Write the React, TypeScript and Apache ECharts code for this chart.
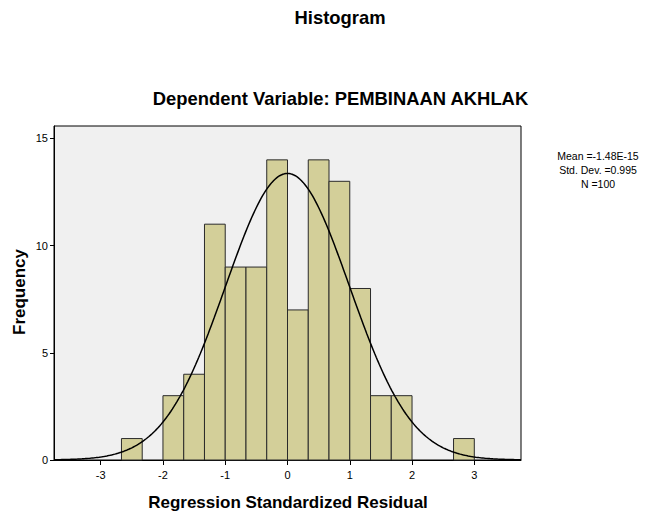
import React, { useEffect, useRef } from "react";
import * as echarts from "echarts";

const binStarts = [-8 / 3, -2, -5 / 3, -4 / 3, -1, -2 / 3, -1 / 3, 0, 1 / 3, 2 / 3, 1, 4 / 3, 5 / 3, 8 / 3];
const binWidth = 1 / 3;
const frequencies = [1, 3, 4, 11, 9, 9, 14, 7, 14, 13, 8, 3, 3, 1];
const xTicks = [-3, -2, -1, 0, 1, 2, 3];
const yTicks = [0, 5, 10, 15];
const mean = -1.48e-15;
const stdDev = 0.995;
const n = 100;
const statsLines = ["Mean =-1.48E-15", "Std. Dev. =0.995", "N =100"];

const FONT = "'Liberation Sans', Arial, Helvetica, sans-serif";

export default function App() {
  const ref = useRef<HTMLDivElement>(null);
  useEffect(() => {
    if (!ref.current) return;
    document.body.style.margin = "0";
    const chart = echarts.init(ref.current, null, { renderer: "svg" });
    const bins = binStarts.map((s, i) => [s, s + binWidth, frequencies[i]]);
    const curve: number[][] = [];
    for (let i = 0; i <= 300; i++) {
      const x = -3.75 + (7.5 * i) / 300;
      const z = (x - mean) / stdDev;
      const y = (n * binWidth) / (stdDev * Math.sqrt(2 * Math.PI)) * Math.exp(-0.5 * z * z);
      curve.push([x, y]);
    }
    chart.setOption({
      animation: false,
      backgroundColor: "#ffffff",
      grid: {
        left: 54,
        right: 131,
        top: 126,
        bottom: 54,
        show: true,
        backgroundColor: "#f0f0f0",
        borderColor: "#000",
        borderWidth: 1,
      },
      xAxis: {
        type: "value",
        min: -3.75,
        max: 3.75,
        axisLine: { show: true, onZero: false, lineStyle: { color: "#000", width: 1 } },
        axisTick: { show: true, length: 5, customValues: xTicks, lineStyle: { color: "#000" } },
        axisLabel: {
          customValues: xTicks,
          fontFamily: FONT,
          fontSize: 11,
          color: "#000",
          margin: 9,
        },
        splitLine: { show: false },
      },
      yAxis: {
        type: "value",
        min: 0,
        max: 15.58,
        axisLine: { show: true, onZero: false, lineStyle: { color: "#000", width: 1 } },
        axisTick: { show: true, length: 4, customValues: yTicks, lineStyle: { color: "#000" } },
        axisLabel: {
          customValues: yTicks,
          fontFamily: FONT,
          fontSize: 11,
          color: "#000",
          margin: 6,
        },
        splitLine: { show: false },
      },
      graphic: [
        {
          type: "text",
          x: 340,
          y: 17,
          style: {
            text: "Histogram",
            font: `bold 18.4px ${FONT}`,
            fill: "#000",
            align: "center",
            verticalAlign: "middle",
          },
        },
        {
          type: "text",
          x: 340.5,
          y: 98,
          style: {
            text: "Dependent Variable: PEMBINAAN AKHLAK",
            font: `bold 18.4px ${FONT}`,
            fill: "#000",
            align: "center",
            verticalAlign: "middle",
          },
        },
        {
          type: "text",
          x: 288,
          y: 502,
          style: {
            text: "Regression Standardized Residual",
            font: `bold 17px ${FONT}`,
            fill: "#000",
            align: "center",
            verticalAlign: "middle",
          },
        },
        {
          type: "text",
          x: 19,
          y: 292,
          rotation: Math.PI / 2,
          style: {
            text: "Frequency",
            font: `bold 17px ${FONT}`,
            fill: "#000",
            align: "center",
            verticalAlign: "middle",
          },
        },
        ...statsLines.map((t, i) => ({
          type: "text",
          x: 598,
          y: 156 + i * 14,
          style: {
            text: t,
            font: `10.5px ${FONT}`,
            fill: "#000",
            align: "center",
            verticalAlign: "middle",
          },
        })),
      ],
      series: [
        {
          type: "custom",
          data: bins,
          encode: { x: [0, 1], y: 2 },
          renderItem: (params: any, api: any) => {
            const p0 = api.coord([api.value(0), api.value(2)]);
            const p1 = api.coord([api.value(1), 0]);
            return {
              type: "rect",
              shape: { x: p0[0], y: p0[1], width: p1[0] - p0[0], height: p1[1] - p0[1] },
              style: { fill: "#d3cf99", stroke: "#2a2a2a", lineWidth: 1 },
            };
          },
          z: 2,
        },
        {
          type: "line",
          data: curve,
          showSymbol: false,
          symbol: "none",
          smooth: false,
          lineStyle: { color: "#000", width: 1.5 },
          z: 3,
        },
      ],
    });
    return () => chart.dispose();
  }, []);
  return <div ref={ref} style={{ width: 652, height: 514 }} />;
}
